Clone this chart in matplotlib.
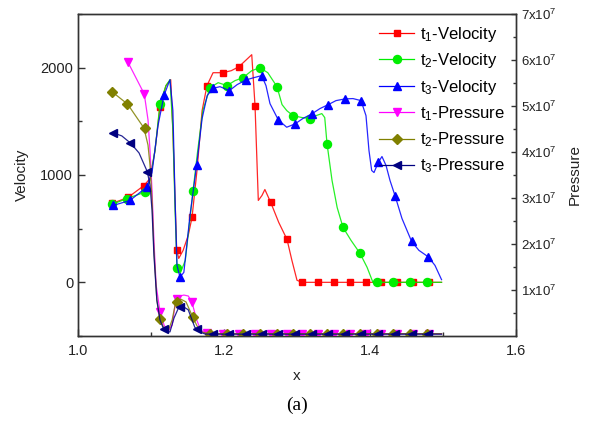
import matplotlib
matplotlib.use("Agg")
import matplotlib.pyplot as plt
from matplotlib.lines import Line2D
from matplotlib.ticker import MultipleLocator, FixedLocator

plt.rcParams['font.family'] = ['Liberation Sans', 'DejaVu Sans']
plt.rcParams['mathtext.fontset'] = 'custom'
plt.rcParams['mathtext.rm'] = 'Liberation Sans'
plt.rcParams['mathtext.it'] = 'Liberation Sans'

# ---------------- data ----------------
# t1 velocity: line vertices
v1_x = [1.0466, 1.0685, 1.0904, 1.0986, 1.1055, 1.1123, 1.1205, 1.1270, 1.1300, 1.1330,
        1.1352, 1.1380, 1.1440, 1.1510, 1.1562, 1.1630, 1.1700, 1.1767, 1.1850, 1.1986,
        1.2100, 1.2205, 1.2380, 1.2425, 1.2470, 1.2520, 1.2560, 1.2640, 1.2750, 1.2863,
        1.2930, 1.3000, 1.3068, 1.4980]
v1_y = [735, 791, 902, 967, 1228, 1637, 1833, 1888, 1414, 763,
        298, 223, 298, 437, 605, 1042, 1600, 1833, 1953, 1953,
        1972, 2009, 2121, 1647, 763, 809, 865, 744, 558, 400,
        205, 19, 0, 0]
# t1 velocity: marker positions
m1_x = [1.0466, 1.0685, 1.0904, 1.1123, 1.1352, 1.1562, 1.1767, 1.1986, 1.2205, 1.2425,
        1.2640, 1.2863, 1.3068, 1.3288, 1.3507, 1.3726, 1.3945, 1.4151, 1.4370, 1.4589, 1.4808]
m1_y = [735, 791, 902, 1637, 298, 605, 1833, 1953, 2009, 1647,
        744, 400, 0, 0, 0, 0, 0, 0, 0, 0, 0]

# t2 velocity
v2_x = [1.0466, 1.0671, 1.0918, 1.0986, 1.1055, 1.1123, 1.1205, 1.1260, 1.1300, 1.1330,
        1.1356, 1.1400, 1.1470, 1.1575, 1.1640, 1.1710, 1.1808, 1.1920, 1.2041, 1.2150,
        1.2260, 1.2380, 1.2493, 1.2600, 1.2726, 1.2795, 1.2860, 1.2945, 1.3070, 1.3178,
        1.3260, 1.3340, 1.3380, 1.3411, 1.3480, 1.3550, 1.3630, 1.3740, 1.3863, 1.3960,
        1.4040, 1.4980]
v2_y = [726, 781, 840, 949, 1228, 1665, 1833, 1888, 1414, 670,
        130, 84, 205, 847, 1228, 1600, 1814, 1860, 1833, 1879,
        1907, 1972, 2000, 1953, 1823, 1656, 1600, 1553, 1535, 1526,
        1553, 1572, 1535, 1293, 949, 698, 512, 391, 270, 140,
        0, 0]
m2_x = [1.0466, 1.0671, 1.0918, 1.1123, 1.1356, 1.1575, 1.1808, 1.2041, 1.2260, 1.2493,
        1.2726, 1.2945, 1.3178, 1.3411, 1.3630, 1.3863, 1.4096, 1.4315, 1.4548, 1.4781]
m2_y = [726, 781, 840, 1665, 130, 847, 1814, 1833, 1907, 2000,
        1823, 1553, 1526, 1293, 512, 270, 0, 0, 0, 0]

# t3 velocity
v3_x = [1.0480, 1.0712, 1.0941, 1.1014, 1.1096, 1.1178, 1.1260, 1.1300, 1.1330, 1.1356,
        1.1397, 1.1450, 1.1534, 1.1626, 1.1700, 1.1770, 1.1845, 1.1945, 1.2073, 1.2180,
        1.2301, 1.2410, 1.2516, 1.2575, 1.2630, 1.2744, 1.2859, 1.2973, 1.3080, 1.3201,
        1.3315, 1.3429, 1.3534, 1.3658, 1.3767, 1.3877, 1.3945, 1.3986, 1.4023, 1.4055,
        1.4114, 1.4164, 1.4220, 1.4274, 1.4342, 1.4438, 1.4570, 1.4670, 1.4799, 1.4890,
        1.4980]
v3_y = [716, 763, 887, 1023, 1460, 1742, 1888, 1600, 763, 158,
        47, 93, 623, 1095, 1526, 1740, 1807, 1823, 1786, 1842,
        1886, 1907, 1926, 1833, 1665, 1513, 1445, 1476, 1526, 1569,
        1619, 1656, 1693, 1709, 1712, 1693, 1553, 1228, 1042, 1023,
        1119, 1172, 1088, 949, 809, 595, 381, 298, 237, 158,
        25]
m3_x = [1.0480, 1.0712, 1.0941, 1.1178, 1.1397, 1.1626, 1.1845, 1.2073, 1.2301, 1.2516,
        1.2744, 1.2973, 1.3201, 1.3429, 1.3658, 1.3877, 1.4114, 1.4342, 1.4570, 1.4799]
m3_y = [716, 763, 887, 1742, 47, 1095, 1807, 1786, 1886, 1926,
        1513, 1476, 1569, 1656, 1709, 1693, 1119, 809, 381, 237]

# pressures (units of 1e7)
p1_x = [1.0685, 1.0795, 1.0908, 1.0959, 1.0986, 1.1014, 1.1040, 1.1070, 1.1123, 1.1178,
        1.1230, 1.1290, 1.1340, 1.1400, 1.1450, 1.1510, 1.1558, 1.1626, 1.1680, 1.1740,
        1.1780, 1.4980]
p1_y = [5.95, 5.61, 5.26, 4.70, 4.04, 3.17, 2.09, 1.11, 0.53, 0.24,
        0.09, 0.24, 0.78, 0.87, 0.89, 0.87, 0.75, 0.35, 0.13, 0.065,
        0.05, 0.05]
pm1_x = [1.0685, 1.0904, 1.1123, 1.1352, 1.1562, 1.1767, 1.1986, 1.2205, 1.2425, 1.2640,
         1.2863, 1.3068, 1.3288, 1.3507, 1.3726, 1.3945, 1.4151, 1.4370, 1.4589, 1.4808]
pm1_y = [5.95, 5.26, 0.53, 0.80, 0.75, 0.06, 0.05, 0.05, 0.05, 0.05,
         0.05, 0.05, 0.05, 0.05, 0.05, 0.05, 0.05, 0.05, 0.05, 0.05]

p2_x = [1.0466, 1.0680, 1.0904, 1.0959, 1.0986, 1.1014, 1.1040, 1.1080, 1.1123, 1.1178,
        1.1230, 1.1290, 1.1340, 1.1410, 1.1480, 1.1570, 1.1630, 1.1690, 1.1750, 1.1830,
        1.4980]
p2_y = [5.31, 5.04, 4.52, 4.15, 3.72, 2.96, 1.87, 0.78, 0.36, 0.17,
        0.09, 0.35, 0.75, 0.80, 0.74, 0.42, 0.22, 0.09, 0.065, 0.05,
        0.05]
pm2_x = [1.0466, 1.0671, 1.0918, 1.1123, 1.1356, 1.1575, 1.1808, 1.2041, 1.2260, 1.2493,
         1.2726, 1.2945, 1.3178, 1.3411, 1.3630, 1.3863, 1.4096, 1.4315, 1.4548, 1.4781]
pm2_y = [5.31, 5.04, 4.52, 0.36, 0.75, 0.42, 0.05, 0.05, 0.05, 0.05,
         0.05, 0.05, 0.05, 0.05, 0.05, 0.05, 0.05, 0.05, 0.05, 0.05]

p3_x = [1.0475, 1.0600, 1.0722, 1.0836, 1.0950, 1.0986, 1.1014, 1.1040, 1.1080, 1.1123,
        1.1168, 1.1220, 1.1260, 1.1315, 1.1374, 1.1440, 1.1510, 1.1600, 1.1670, 1.1740,
        1.1830, 1.4980]
p3_y = [4.42, 4.35, 4.19, 3.98, 3.57, 3.28, 2.74, 1.76, 0.78, 0.35,
        0.17, 0.09, 0.09, 0.39, 0.60, 0.64, 0.57, 0.19, 0.087, 0.043,
        0.04, 0.04]
pm3_x = [1.0480, 1.0712, 1.0941, 1.1178, 1.1397, 1.1626, 1.1845, 1.2073, 1.2301, 1.2516,
         1.2744, 1.2973, 1.3201, 1.3429, 1.3658, 1.3877, 1.4114, 1.4342, 1.4570, 1.4799]
pm3_y = [4.42, 4.19, 3.57, 0.15, 0.62, 0.16, 0.04, 0.04, 0.04, 0.04,
         0.04, 0.04, 0.04, 0.04, 0.04, 0.04, 0.04, 0.04, 0.04, 0.04]

labels = [r't$_1$-Velocity', r't$_2$-Velocity', r't$_3$-Velocity',
          r't$_1$-Pressure', r't$_2$-Pressure', r't$_3$-Pressure']
colors = ['#FF0000', '#00EE00', '#0000FF', '#FF00FF', '#808000', '#000080']
markers = ['s', 'o', '^', 'v', 'D', '<']
msizes = [5.0, 5.8, 6.3, 6.3, 4.8, 6.3]

right_ticks = [1, 2, 3, 4, 5, 6, 7]
right_labels = [r'%dx10$^7$' % t for t in right_ticks]

# ---------------- figure ----------------
fig = plt.figure(figsize=(5.92, 4.22), dpi=100)
ax = fig.add_axes([78 / 592, 1 - 336 / 422, 438 / 592, 322 / 422])
ax2 = ax.twinx()

series_v = [(v1_x, v1_y, m1_x, m1_y), (v2_x, v2_y, m2_x, m2_y), (v3_x, v3_y, m3_x, m3_y)]
series_p = [(p1_x, p1_y, pm1_x, pm1_y), (p2_x, p2_y, pm2_x, pm2_y), (p3_x, p3_y, pm3_x, pm3_y)]

handles = []
for i, (lx, ly, mx, my) in enumerate(series_v):
    c = colors[i]
    ax.plot(lx, ly, '-', color=c, lw=0.9, alpha=0.85)
    ax.plot(mx, my, linestyle='none', marker=markers[i], ms=msizes[i], color=c, mec=c)
    handles.append(Line2D([], [], color=c, lw=0.9, marker=markers[i], ms=msizes[i]))

for j, (lx, ly, mx, my) in enumerate(series_p):
    i = j + 3
    c = colors[i]
    ax2.plot(lx, [v * 1e7 for v in ly], '-', color=c, lw=0.9, alpha=0.85)
    ax2.plot(mx, [v * 1e7 for v in my], linestyle='none', marker=markers[i], ms=msizes[i],
             color=c, mec=c)
    handles.append(Line2D([], [], color=c, lw=0.9, marker=markers[i], ms=msizes[i]))

ax.set_xlim(1.0, 1.6)
ax.set_ylim(-500, 2500)
ax2.set_ylim(0, 7e7)

spine_c = '#333333'
for a in (ax, ax2):
    for s in a.spines.values():
        s.set_color(spine_c)
        s.set_linewidth(1.0)

ax.xaxis.set_minor_locator(MultipleLocator(0.1))
ax.set_xticks([1.0, 1.2, 1.4, 1.6])
ax.set_xticklabels(['1.0', '1.2', '1.4', '1.6'])
ax.yaxis.set_major_locator(FixedLocator([0, 1000, 2000]))
ax.yaxis.set_minor_locator(FixedLocator([-500, 500, 1500, 2500]))
ax.tick_params(which='both', direction='in', colors=spine_c, labelsize=10.5,
               top=False, right=False, labelcolor='#222222')
ax.tick_params(which='major', length=4.8, width=1.0)
ax.tick_params(which='minor', length=2.6, width=1.0)
ax.tick_params(axis='x', pad=6)

ax2.yaxis.set_major_locator(FixedLocator([t * 1e7 for t in right_ticks]))
ax2.yaxis.set_minor_locator(FixedLocator([(t + 0.5) * 1e7 for t in range(0, 7)]))
ax2.set_yticklabels(right_labels)
ax2.tick_params(which='both', direction='in', colors=spine_c, labelsize=9.5,
                labelcolor='#222222')
ax2.tick_params(which='major', length=3.5, width=1.0)
ax2.tick_params(which='minor', length=2.2, width=1.0)

ax.set_xlabel('x', fontsize=11, labelpad=8, color='#222222')
ax.set_ylabel('Velocity', fontsize=11, labelpad=8, color='#222222')
ax2.set_ylabel('Pressure', fontsize=11, labelpad=8, color='#222222')

leg = ax2.legend(handles, labels, loc='upper right', bbox_to_anchor=(1.0, 1.0),
                 frameon=False, fontsize=12, handlelength=2.1, handletextpad=0.35,
                 labelspacing=0.45, borderaxespad=0.35, borderpad=0.3)

fig.text(297 / 592, 1 - 405 / 422, '(a)', ha='center', va='center', fontsize=14,
         family=['Liberation Serif', 'DejaVu Serif'])

fig.savefig('out.png', dpi=100)
